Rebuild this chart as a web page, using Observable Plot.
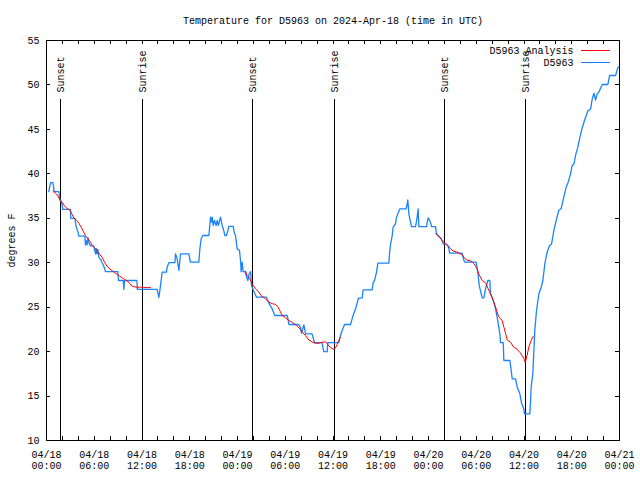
<!DOCTYPE html>
<html>
<head>
<meta charset="utf-8">
<script src="https://cdn.jsdelivr.net/npm/d3@7"></script>
<script src="https://cdn.jsdelivr.net/npm/@observablehq/plot@0.6"></script>
<style>
  body { margin: 0; background: #fff; }
  svg line, svg rect { shape-rendering: crispEdges; }
</style>
</head>
<body>
<div id="chart"></div>
<script>
// ---- text ----
const title = "Temperature for D5963 on 2024-Apr-18 (time in UTC)";
const yLabel = "degrees F";
const seriesNames = ["D5963 Analysis", "D5963"];
const seriesColors = ["#ff0000", "#1a84ff"];

// ---- axes (x in hours since 2024-04-18 00:00 UTC) ----
const xTicks = [0, 6, 12, 18, 24, 30, 36, 42, 48, 54, 60, 66, 72];
const xTickLabels = ["04/18\n00:00", "04/18\n06:00", "04/18\n12:00", "04/18\n18:00",
  "04/19\n00:00", "04/19\n06:00", "04/19\n12:00", "04/19\n18:00",
  "04/20\n00:00", "04/20\n06:00", "04/20\n12:00", "04/20\n18:00", "04/21\n00:00"];
const xMinorTicks = [0, 2, 4, 6, 8, 10, 12, 14, 16, 18, 20, 22, 24, 26, 28, 30, 32, 34, 36,
  38, 40, 42, 44, 46, 48, 50, 52, 54, 56, 58, 60, 62, 64, 66, 68, 70, 72];
const yTicks = [10, 15, 20, 25, 30, 35, 40, 45, 50, 55];

// ---- sun events ----
const sunHours = [1.80, 12.10, 25.92, 36.23, 50.05, 60.23];
const sunLabels = ["Sunset", "Sunrise", "Sunset", "Sunrise", "Sunset", "Sunrise"];

// ---- D5963 observations ----
const obsHours = [0.29, 0.5, 0.8, 0.9, 0.95, 1.55, 1.7, 1.9, 2.05, 3.0, 3.05, 3.56, 3.64, 3.75, 3.95, 4.06,
  4.82, 4.9, 4.97, 5.1, 5.22, 5.35, 5.53, 5.95, 6.03, 6.16, 6.25, 6.35, 6.45, 6.58, 6.85, 6.99, 7.2, 7.41,
  8.96, 9.05, 9.65, 9.72, 9.8, 11.35, 11.42, 13.9, 14.12, 14.33, 14.53, 15.08, 15.16, 15.37, 16.13, 16.21,
  16.42, 16.63, 16.84, 17.88, 18.09, 19.14, 19.27, 19.43, 19.65, 20.4, 20.52, 20.61, 20.74, 20.82, 20.95,
  21.11, 21.32, 21.45, 21.6, 21.86, 21.99, 22.07, 22.28, 22.41, 22.62, 22.79, 22.91, 23.46, 23.58, 23.75,
  23.96, 24.25, 24.38, 24.46, 24.59, 24.71, 24.92, 25.09, 25.3, 25.47, 25.64, 25.76, 25.97, 26.39, 27.64,
  27.81, 28.06, 28.36, 28.69, 30.24, 30.37, 30.45, 31.71, 31.92, 32.04, 32.34, 32.55, 33.38, 33.51, 33.68,
  34.64, 34.72, 34.85, 35.27, 35.35, 36.73, 36.86, 37.03, 37.24, 37.45, 38.2, 38.5, 38.9, 39.2, 39.67,
  39.79, 40.92, 41.05, 41.22, 41.47, 41.64, 43.02, 43.1, 43.23, 43.44, 43.56, 43.86, 43.98, 44.4, 45.19,
  45.32, 45.4, 45.53, 45.74, 45.86, 46.37, 46.58, 46.7, 46.79, 47.75, 47.84, 47.96, 48.25, 48.38, 48.88,
  49.01, 49.3, 49.59, 49.85, 50.14, 50.43, 50.56, 50.68, 52.23, 52.36, 52.53, 53.99, 54.12, 54.24, 54.37,
  54.62, 54.75, 54.96, 55.17, 55.46, 55.71, 55.79, 56.0, 56.21, 56.42, 56.63, 56.76, 56.97, 57.05, 57.39,
  57.47, 58.23, 58.52, 58.94, 59.15, 59.48, 59.69, 59.98, 60.07, 60.74, 60.9, 61.11, 61.36, 61.57, 61.87,
  62.16, 62.37, 62.62, 62.91, 63.21, 63.46, 63.75, 64.09, 64.38, 64.67, 65.01, 65.3, 65.55, 65.85, 66.06,
  66.27, 66.52, 66.77, 66.98, 67.23, 67.53, 67.82, 68.03, 68.37, 68.57, 68.78, 68.99, 69.2, 69.41, 69.83,
  70.54, 70.75, 71.51, 71.8, 71.92];
const obsTemps = [38, 39, 39, 38.5, 38, 38, 37, 36.8, 36, 36, 35, 35, 34.5, 34, 33.5, 33,
  33, 32, 32.5, 32, 32.8, 32.2, 31.9, 31.9, 31.5, 31, 31.6, 31, 31.5, 30.6, 30.3, 30, 29.6, 29,
  29, 28, 28, 27, 28, 28, 27, 27, 26.1, 27.45, 28.94, 28.94, 29.5, 30, 30, 31,
  30.44, 29.13, 31, 31, 30.06, 30.06, 31.56, 32.69, 33.06, 33.06, 34.19, 35.13, 34.56, 35.13, 34.19,
  34.75, 34.19, 34.75, 34.19, 35.13, 34.56, 34.2, 33.6, 33.06, 33.06, 33.6, 34.1, 34.1, 33.44, 33.06,
  31.56, 31.38, 30.25, 29, 30.06, 29, 29, 28.56, 28, 28.75, 29, 27.44, 26.95, 26.12, 26.12,
  25.75, 25.26, 24.8, 24.06, 24.06, 23.57, 23.05, 23.05, 22.68, 22.07, 23, 22, 22, 21.55, 21,
  21, 20.5, 20, 20, 21, 21, 21.55, 22.07, 22.56, 23.05, 23.05, 24, 25, 26, 26.05,
  26.95, 26.95, 27.8, 28, 28.94, 29.95, 29.95, 31, 32.05, 33.06, 34, 34.4, 35.13, 36.06, 36.06,
  36.6, 37.07, 35.5, 34.56, 34.07, 34.07, 35.13, 36.06, 34.07, 34.07, 34.56, 35.05, 34.56, 34.07, 34.07,
  33.25, 32.95, 32.69, 32.13, 32.13, 31.94, 31.57, 31.08, 31.08, 30.56, 30.07, 30.07, 29.32, 28.57, 27.45,
  26.5, 26.05, 26.05, 27.07, 28, 28, 26.5, 26.05, 25.56, 24.81, 23.88, 23.13, 22, 21, 21,
  19, 19, 16.94, 16.94, 16, 15.25, 14.2, 13.56, 13, 13, 16, 17.5, 22.4, 24.6, 26.5,
  27.25, 28, 29.9, 31.2, 31.9, 32.1, 33.6, 34.94, 35.9, 36.1, 37.4, 38.5, 39.06, 40, 40.94,
  41.1, 42.25, 43, 43.94, 44.9, 45.8, 46.56, 47.1, 47.3, 48.4, 49.07, 48.3, 49, 49.2, 50.05,
  50.05, 51.06, 51.06, 52, 52];

// ---- D5963 Analysis (night-time only; null = gap) ----
const anaHours = [0.84, 1.13, 1.42, 1.68, 1.97, 2.26, 2.6, 2.93, 3.22, 3.43, 3.77, 4.06, 4.36, 4.61, 4.9,
  5.19, 5.53, 5.74, 6.03, 6.37, 6.7, 6.99, 7.29, 7.62, 7.96, 8.25, 8.67, 9.09, 9.51, 9.93, 10.35, 10.64,
  10.97, 11.39, 11.81, 12.23, 12.65, 13.07, 19.0,
  25.01, 25.2, 25.55, 25.84, 26.26, 26.68, 26.97, 27.52, 27.94, 28.36, 28.78, 29.07, 29.32, 29.62, 30.04,
  30.45, 30.87, 31.42, 31.84, 32.13, 32.55, 32.97, 33.38, 33.8, 34.22, 34.64, 35.06, 35.35, 35.69, 36.11,
  36.32, 36.52, 36.86, 36.94, 43.0,
  48.93, 49.4, 49.9, 50.14, 50.43, 50.77, 51.1, 51.6, 52.23, 52.53, 52.8, 53.3, 53.7, 54.12, 54.3, 54.75,
  55.2, 55.5, 56.0, 56.4, 56.8, 57.25, 57.47, 57.7, 57.9, 58.3, 58.7, 59.1, 59.5, 59.8, 60.0, 60.15, 60.4,
  60.6, 60.9, 61.15];
const anaTemps = [38.1, 37.8, 37.55, 37.07, 36.8, 36.4, 36.07, 35.95, 35.43, 35.05, 34.75, 34.45, 34.0, 33.55, 33.06,
  32.7, 32.3, 31.94, 31.7, 31.3, 30.94, 30.6, 30.06, 29.57, 29.3, 29.1, 28.8, 28.56, 28.3, 28.07, 27.8, 27.43,
  27.3, 27.25, 27.25, 27.2, 27.2, 27.2, null,
  29.05, 28.6, 28.2, 27.6, 27.07, 26.7, 26.3, 25.94, 25.56, 25.4, 25.3, 25.06, 24.6, 24.06, 23.8,
  23.5, 23.3, 22.94, 22.56, 22.2, 21.8, 21.3, 21.1, 20.94, 20.94, 21.06, 21.1, 20.8, 20.44, 20.25,
  20.44, 20.8, 21.5, 21.6, null,
  33.25, 32.9, 32.3, 32.1, 31.94, 31.6, 31.3, 31.2, 30.9, 30.55, 30.3, 30.2, 29.9, 29.3, 28.75, 28.0,
  27.7, 27.06, 26.1, 25.08, 23.95, 23.5, 22.75, 22.0, 21.3, 21.06, 20.5, 20.3, 19.9, 19.5, 19.2, 18.8, 19.6,
  20.5, 21.25, 21.7];

const obs = obsHours.map((h, i) => ({h, t: obsTemps[i]}));
const ana = anaHours.map((h, i) => ({h, t: anaTemps[i]}));

const font = "'Liberation Mono', 'DejaVu Sans Mono', monospace";
const W = 640, H = 480, ML = 46, MR = 21, MT = 40, MB = 40;
const FW = W - ML - MR, FH = H - MT - MB;
const tickLen = 4;

const plot = Plot.plot({
  width: W, height: H,
  marginLeft: ML, marginRight: MR, marginTop: MT, marginBottom: MB,
  style: {fontFamily: font, fontSize: "10px", background: "white", color: "black"},
  x: {type: "linear", domain: [0, 72]},
  y: {type: "linear", domain: [10, 55]},
  marks: [
    // sunrise / sunset markers
    Plot.ruleX(sunHours, {x: d => d, insetTop: 59, stroke: "black", strokeWidth: 1}),
    Plot.text(sunHours, {x: d => d, text: (d, i) => sunLabels[i], frameAnchor: "top", dy: 52,
      rotate: -90, textAnchor: "start", lineAnchor: "middle", fill: "black"}),
    // series
    Plot.line(obs, {x: "h", y: "t", stroke: seriesColors[1], strokeWidth: 1.3}),
    Plot.line(ana, {x: "h", y: "t", stroke: seriesColors[0], strokeWidth: 1}),
    // inward ticks (bottom, top, left, right)
    Plot.ruleX(xMinorTicks, {x: d => d, insetTop: FH - tickLen, stroke: "black"}),
    Plot.ruleX(xMinorTicks, {x: d => d, insetBottom: FH - tickLen, stroke: "black"}),
    Plot.ruleY(yTicks, {y: d => d, insetRight: FW - tickLen, stroke: "black"}),
    Plot.ruleY(yTicks, {y: d => d, insetLeft: FW - tickLen, stroke: "black"}),
    // axes labels
    Plot.axisX({ticks: xTicks, tickSize: 0, tickPadding: 10, lineHeight: 1.1,
      tickFormat: d => xTickLabels[xTicks.indexOf(d)], label: null}),
    Plot.axisY({ticks: yTicks, tickSize: 0, tickPadding: 7, label: null}),
    Plot.text([yLabel], {frameAnchor: "left", dx: -35, rotate: -90, textAnchor: "middle", lineAnchor: "middle"}),
    Plot.text([title], {frameAnchor: "top", dy: -20, lineAnchor: "middle"}),
    // legend labels
    Plot.text([seriesNames[0]], {frameAnchor: "top-right", dx: -46, dy: 10.5, textAnchor: "end", lineAnchor: "middle"}),
    Plot.text([seriesNames[1]], {frameAnchor: "top-right", dx: -46, dy: 22.5, textAnchor: "end", lineAnchor: "middle"}),
    Plot.frame({stroke: "black", strokeWidth: 1})
  ]
});

// legend sample lines
const svg = d3.select(plot);
const lg = svg.append("g").attr("class", "legend-samples");
seriesNames.forEach((name, i) => {
  lg.append("line")
    .attr("x1", 581).attr("x2", 610)
    .attr("y1", MT + 10.5 + 12 * i).attr("y2", MT + 10.5 + 12 * i)
    .attr("stroke", seriesColors[i]).attr("stroke-width", 1.3);
});

document.getElementById("chart").appendChild(plot);
</script>
</body>
</html>
